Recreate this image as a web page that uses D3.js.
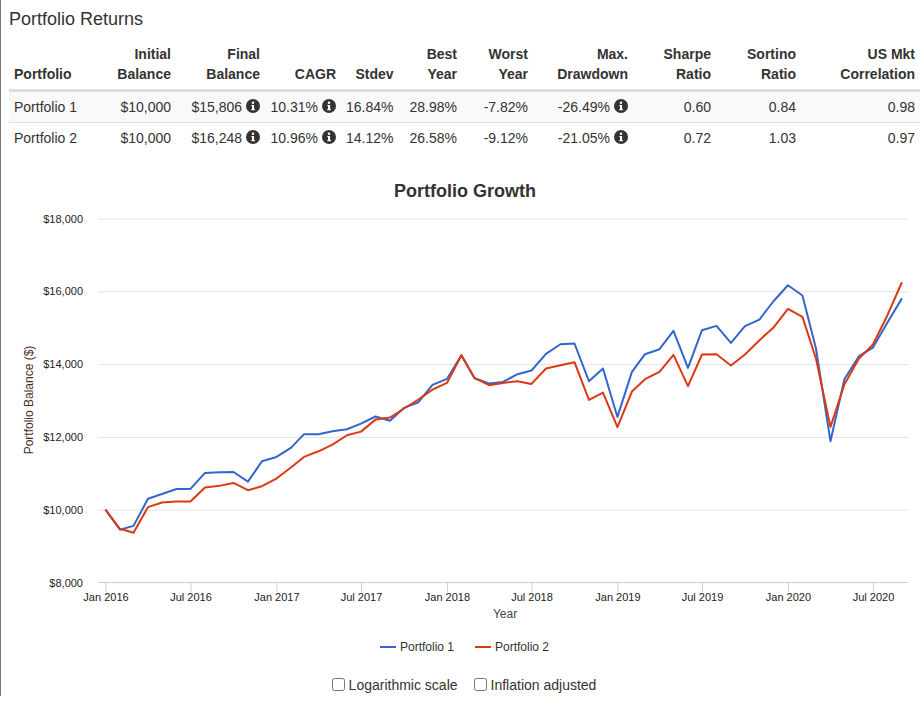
<!DOCTYPE html>
<html>
<head>
<meta charset="utf-8">
<script src="https://cdn.jsdelivr.net/npm/d3@7"></script>
<style>
html, body { margin: 0; padding: 0; background: #fff; }
body { width: 922px; height: 707px; position: relative; overflow: hidden; font-family: "Liberation Sans", Arial, sans-serif; color: #333; }
#edge { position: absolute; left: 0; top: 0; width: 1px; height: 696px; background: #777; }
h3 { position: absolute; left: 9px; top: 9px; margin: 0; font-size: 18px; line-height: 20px; font-weight: normal; }
table { position: absolute; left: 9px; top: 44px; width: 911px; table-layout: fixed; border-collapse: collapse; font-size: 14px; line-height: 20px; }
th { text-align: right; padding: 0 5px 5px 5px; vertical-align: bottom; border-bottom: 3px solid #ddd; font-weight: bold; white-space: nowrap; }
td { text-align: right; padding: 5px; border-bottom: 1px solid #ddd; height: 20px; white-space: nowrap; }
tr:last-child td { border-bottom: none; }
th:first-child, td:first-child { text-align: left; }
tbody tr:nth-child(odd) { background: #f9f9f9; }
td svg { vertical-align: -1px; margin-left: 4px; }
svg#chart { position: absolute; left: 0; top: 0; }
#options { position: absolute; left: 0; top: 675px; width: 928px; text-align: center; font-size: 14px; line-height: 20px; }
#options label { margin: 0 8px 0 8px; }
#options input { margin: 0 4px 0 0; width: 13px; height: 13px; vertical-align: -1px; }
</style>
</head>
<body>
<div id="edge"></div>
<h3>Portfolio Returns</h3>
<table id="stats"></table>
<svg id="chart" width="922" height="707"></svg>
<div id="options"></div>
<script>
// таблица
const headers = [["", "Portfolio"], ["Initial", "Balance"], ["Final", "Balance"], ["", "CAGR"], ["", "Stdev"], ["Best", "Year"],
    ["Worst", "Year"], ["Max.", "Drawdown"], ["Sharpe", "Ratio"], ["Sortino", "Ratio"], ["US Mkt", "Correlation"]];
const colWidths = [91, 76, 89, 76, 57.5, 63.5, 71, 100, 83, 85, 119];
const row1 = ["Portfolio 1", "$10,000", "$15,806", "10.31%", "16.84%", "28.98%", "-7.82%", "-26.49%", "0.60", "0.84", "0.98"];
const row2 = ["Portfolio 2", "$10,000", "$16,248", "10.96%", "14.12%", "26.58%", "-9.12%", "-21.05%", "0.72", "1.03", "0.97"];
const infoCols = [2, 3, 7]; // колонки со значком

// данные графика
const months = ["2016-01", "2016-02", "2016-03", "2016-04", "2016-05", "2016-06", "2016-07", "2016-08", "2016-09", "2016-10", "2016-11", "2016-12",
    "2017-01", "2017-02", "2017-03", "2017-04", "2017-05", "2017-06", "2017-07", "2017-08", "2017-09", "2017-10", "2017-11", "2017-12",
    "2018-01", "2018-02", "2018-03", "2018-04", "2018-05", "2018-06", "2018-07", "2018-08", "2018-09", "2018-10", "2018-11", "2018-12",
    "2019-01", "2019-02", "2019-03", "2019-04", "2019-05", "2019-06", "2019-07", "2019-08", "2019-09", "2019-10", "2019-11", "2019-12",
    "2020-01", "2020-02", "2020-03", "2020-04", "2020-05", "2020-06", "2020-07", "2020-08", "2020-09"];
const portfolio1 = [10000, 9450, 9555, 10300, 10430, 10570, 10570, 11010, 11030, 11035, 10770, 11330,
    11450, 11700, 12075, 12075, 12155, 12210, 12365, 12560, 12445, 12797, 12953, 13428,
    13593, 14244, 13612, 13466, 13511, 13722, 13824, 14280, 14546, 14566, 13530, 13878,
    12549, 13786, 14272, 14409, 14912, 13895, 14931, 15050, 14582, 15041, 15224, 15727,
    16167, 15884, 14428, 11882, 13593, 14217, 14455, 15142, 15806];
const portfolio2 = [10000, 9475, 9365, 10070, 10197, 10225, 10225, 10610, 10655, 10735, 10535, 10645,
    10855, 11160, 11450, 11605, 11790, 12045, 12145, 12475, 12530, 12780, 13027, 13300,
    13483, 14244, 13620, 13420, 13483, 13530, 13456, 13878, 13970, 14052, 13016, 13219,
    12266, 13247, 13585, 13786, 14252, 13393, 14263, 14272, 13962, 14263, 14656, 15005,
    15516, 15296, 14153, 12275, 13447, 14153, 14538, 15343, 16248];
const yTicks = [8000, 10000, 12000, 14000, 16000, 18000];
const xTicks = ["2016-01", "2016-07", "2017-01", "2017-07", "2018-01", "2018-07", "2019-01", "2019-07", "2020-01", "2020-07"];
const seriesNames = ["Portfolio 1", "Portfolio 2"];
const seriesColors = ["#3366cc", "#dc3912"];
const checkboxLabels = ["Logarithmic scale", "Inflation adjusted"];

const parseMonth = d3.utcParse("%Y-%m");

// размеры
const plot = {left: 98, right: 908, top: 218.5, bottom: 582.5};

// рисуем таблицу
let table = d3.select("#stats");
table.append("colgroup").selectAll("col").data(colWidths).enter().append("col")
    .style("width", function (d) { return d + "px"; });

let thead = table.append("thead");
thead.append("tr").selectAll("th").data(headers).enter().append("th")
    .html(function (d) { return (d[0] || "&nbsp;") + "<br>" + d[1]; });

let rows = table.append("tbody").selectAll("tr").data([row1, row2]).enter().append("tr");
rows.selectAll("td").data(function (d) { return d; }).enter().append("td")
    .each(function (d, i) {
        let cell = d3.select(this);
        cell.append("span").text(d);
        if (infoCols.indexOf(i) >= 0) {
            let icon = cell.append("svg").attr("width", 14).attr("height", 14).attr("viewBox", "0 0 14 14");
            icon.append("circle").attr("cx", 7).attr("cy", 7).attr("r", 7).attr("fill", "#333");
            icon.append("rect").attr("x", 5.9).attr("y", 2.6).attr("width", 2.2).attr("height", 2.2).attr("fill", "#fff");
            icon.append("path").attr("d", "M5.3 5.9H8.1V10H8.9V11.2H5.3V10H6V7.1H5.3Z").attr("fill", "#fff");
        }
    });

// шкалы
let x = d3.scaleUtc()
    .domain([new Date(Date.UTC(2015, 11, 16)), new Date(Date.UTC(2020, 8, 14))])
    .range([plot.left, plot.right]);

let y = d3.scaleLinear()
    .domain([8000, 18000])
    .range([plot.bottom, plot.top]);

let svg = d3.select("#chart");

// сетка и подписи оси Y
let yAxis = d3.axisLeft(y)
    .tickValues(yTicks)
    .tickSize(-(plot.right - plot.left))
    .tickPadding(15)
    .tickFormat(function (d) { return "$" + d3.format(",")(d); });

let yG = svg.append("g").attr("transform", "translate(" + plot.left + ",0)").call(yAxis);
yG.select(".domain").remove();
yG.selectAll(".tick line").attr("stroke", function (d) { return d === 8000 ? "none" : "#e3e3e3"; });
yG.selectAll(".tick text").attr("font-size", 11).attr("font-family", "Liberation Sans").attr("fill", "#222");

// ось X
let xAxis = d3.axisBottom(x)
    .tickValues(xTicks.map(parseMonth))
    .tickSize(9)
    .tickPadding(2)
    .tickFormat(d3.utcFormat("%b %Y"));

let xG = svg.append("g").attr("transform", "translate(0," + plot.bottom + ")").call(xAxis);
xG.select(".domain").attr("stroke", "#c0d0e0").attr("d", "M" + plot.left + ",0H" + plot.right);
xG.selectAll(".tick line").attr("stroke", "#c0d0e0");
xG.selectAll(".tick text").attr("font-size", 11).attr("font-family", "Liberation Sans").attr("fill", "#222");

// линии
let line = d3.line()
    .x(function (d, i) { return x(parseMonth(months[i])); })
    .y(function (d) { return y(d); });

svg.selectAll("path.series")
    .data([portfolio1, portfolio2])
    .enter()
    .append("path")
    .attr("class", "series")
    .attr("d", line)
    .attr("fill", "none")
    .attr("stroke", function (d, i) { return seriesColors[i]; })
    .attr("stroke-width", 2)
    .attr("stroke-linejoin", "round");

// заголовки
svg.append("text").attr("x", 465).attr("y", 197).attr("text-anchor", "middle")
    .attr("font-size", 18).attr("font-weight", "bold").attr("fill", "#333").text("Portfolio Growth");
svg.append("text").attr("x", 505).attr("y", 618).attr("text-anchor", "middle")
    .attr("font-size", 12).attr("fill", "#444").text("Year");
svg.append("text").attr("transform", "translate(33,400) rotate(-90)").attr("text-anchor", "middle")
    .attr("font-size", 12).attr("fill", "#4d2a2a").text("Portfolio Balance ($)");

// легенда
let legendX = [380, 475];
let legend = svg.selectAll("g.legend").data(seriesNames).enter().append("g")
    .attr("class", "legend")
    .attr("transform", function (d, i) { return "translate(" + legendX[i] + ",647)"; });
legend.append("line").attr("x1", 0).attr("x2", 16)
    .attr("stroke", function (d, i) { return seriesColors[i]; }).attr("stroke-width", 2);
legend.append("text").attr("x", 20).attr("y", 4).attr("font-size", 12).attr("fill", "#333").text(function (d) { return d; });

// флажки
let labels = d3.select("#options").selectAll("label").data(checkboxLabels).enter().append("label");
labels.append("input").attr("type", "checkbox");
labels.append("span").text(function (d) { return d; });
</script>
</body>
</html>
